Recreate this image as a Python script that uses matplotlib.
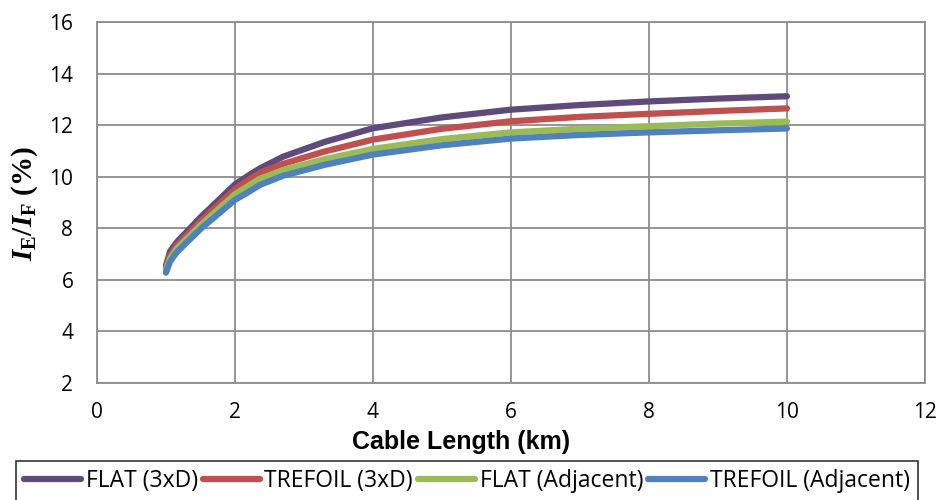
import matplotlib
matplotlib.use('Agg')
import matplotlib.pyplot as plt

matplotlib.rcParams.update({
    'font.family': ['Open Sans', 'DejaVu Sans'],
    'mathtext.fontset': 'custom',
    'mathtext.rm': 'Liberation Serif:bold',
    'mathtext.it': 'Liberation Serif:italic:bold',
    'mathtext.bf': 'Liberation Serif:bold',
})

# Cable length (km)
length_km = [1.0, 1.06, 1.16, 1.5, 2.0, 2.18, 2.36, 2.7, 3.3, 4.0, 5.0, 6.0, 7.0, 8.0, 9.0, 10.0]

# I_E / I_F (%)
flat_3xd = [6.55, 7.1, 7.47, 8.42, 9.7, 10.02, 10.32, 10.78, 11.35, 11.88, 12.3, 12.6, 12.78, 12.92, 13.03, 13.12]
trefoil_3xd = [6.45, 6.95, 7.35, 8.27, 9.52, 9.85, 10.15, 10.5, 10.98, 11.44, 11.86, 12.15, 12.32, 12.44, 12.55, 12.65]
flat_adj = [6.38, 6.83, 7.22, 8.12, 9.32, 9.62, 9.92, 10.26, 10.68, 11.08, 11.46, 11.72, 11.86, 11.96, 12.06, 12.14]
trefoil_adj = [6.28, 6.71, 7.08, 7.97, 9.1, 9.38, 9.68, 10.04, 10.46, 10.86, 11.22, 11.48, 11.62, 11.72, 11.8, 11.87]

series = [
    ('FLAT (3xD)', flat_3xd, '#604A7B'),
    ('TREFOIL (3xD)', trefoil_3xd, '#C0504D'),
    ('FLAT (Adjacent)', flat_adj, '#9BBB59'),
    ('TREFOIL (Adjacent)', trefoil_adj, '#4F81BD'),
]

fig = plt.figure(figsize=(9.41, 5.0), dpi=100)
ax = fig.add_axes([0.103, 0.234, 0.880, 0.722])

for label, vals, color in series:
    ax.plot(length_km, vals, color=color, linewidth=4.5, label=label,
            solid_capstyle='round', solid_joinstyle='round')

ax.set_xlim(0, 12)
ax.set_ylim(2, 16)
ax.set_xticks(range(0, 13, 2))
ax.set_yticks(range(2, 17, 2))
ax.grid(True, color='#8c8c8c', linewidth=1.3)
ax.set_axisbelow(True)
for side in ['top', 'right', 'left', 'bottom']:
    ax.spines[side].set_color('#8c8c8c')
    ax.spines[side].set_linewidth(1.3)
ax.tick_params(length=0, labelsize=15)
ax.tick_params(axis='x', pad=14)
ax.tick_params(axis='y', pad=17)

fig.text(461 / 941, 1 - 442 / 500, 'Cable Length (km)', fontsize=18,
         fontweight='bold', family='Liberation Sans', ha='center', va='center')
fig.text(25 / 941, 1 - 203 / 500, r'$I_{\mathrm{E}}/I_{\mathrm{F}}$ (%)', fontsize=21,
         fontweight='bold', family='Liberation Serif', rotation=90,
         ha='center', va='center')

leg = fig.legend(loc='upper left', bbox_to_anchor=(16 / 941, 1 - 461 / 500), ncol=4,
                 frameon=True, fancybox=False, edgecolor='black',
                 handlelength=2.5, handletextpad=0.2, columnspacing=0.2,
                 borderpad=0.35, borderaxespad=0,
                 prop={'family': ['Open Sans', 'DejaVu Sans'], 'size': 16.5})
leg.get_frame().set_linewidth(1.2)
for line in leg.get_lines():
    line.set_linewidth(4.5)

fig.savefig('out.png', dpi=100)
